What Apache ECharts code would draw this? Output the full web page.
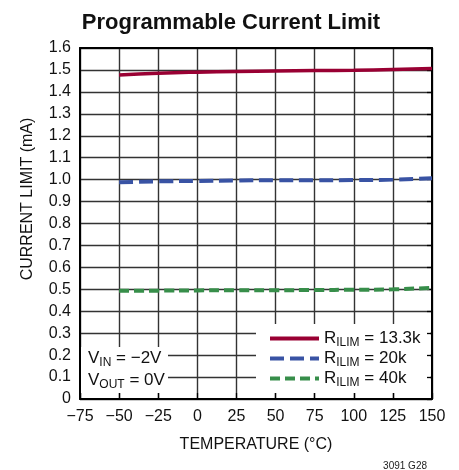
<!DOCTYPE html>
<html>
<head>
<meta charset="utf-8">
<script src="https://cdn.jsdelivr.net/npm/echarts@6/dist/echarts.min.js"></script>
<style>
  html, body { margin: 0; padding: 0; background: #fff; }
</style>
</head>
<body>
<div id="chart" style="width: 459px; height: 470px"></div>
<script>
// temperature (°C)
const temps = [-50, -25, 0, 25, 50, 75, 100, 125, 150]
// current limit (mA) for each RILIM
const r13k = [1.477, 1.485, 1.49, 1.493, 1.495, 1.497, 1.499, 1.502, 1.507]
const r20k = [0.988, 0.992, 0.994, 0.996, 0.997, 0.997, 0.998, 1.0, 1.006]
const r40k = [0.493, 0.494, 0.495, 0.496, 0.496, 0.497, 0.498, 0.5, 0.507]
const legendNames = ['13.3k', '20k', '40k']

const font = '"Liberation Sans", Arial, sans-serif'
const pair = (ys) => temps.map((t, i) => [t, ys[i]])

const chart = echarts.init(document.getElementById('chart'))

const gridLine = { show: true, lineStyle: { color: '#333', width: 1.4 } }
const frame = { show: true, onZero: false, lineStyle: { color: '#000', width: 2 } }

const option = {
  animation: false,
  title: [
    {
      text: 'Programmable Current Limit',
      left: 226,
      textAlign: 'center',
      top: 7,
      textStyle: { fontFamily: font, fontSize: 22, fontWeight: 'bold', color: '#111' }
    },
    {
      text: '3091 G28',
      right: 27,
      top: 456,
      textStyle: { fontFamily: font, fontSize: 10, fontWeight: 'normal', color: '#222' }
    }
  ],
  grid: { left: 80, right: 27, top: 48, bottom: 71 },
  legend: {
    orient: 'vertical',
    left: 263,
    top: 324,
    itemWidth: 49,
    itemHeight: 14,
    itemGap: 0,
    itemStyle: { opacity: 0 },
    lineStyle: { width: 4 },
    data: legendNames.map((n) => 'R ' + n),
    formatter: (name) => '{r|R}{s|ILIM}{r| = ' + name.slice(2) + '}',
    textStyle: {
      fontFamily: font,
      color: '#111',
      rich: {
        r: { fontFamily: font, fontSize: 17, lineHeight: 21, color: '#111' },
        s: { fontFamily: font, fontSize: 12, lineHeight: 13, color: '#111', verticalAlign: 'bottom', padding: [8, 0, 0, 0] }
      }
    }
  },
  graphic: [
    { type: 'rect', z: 1, shape: { x: 256, y: 324, width: 174, height: 69 }, style: { fill: '#fff' } },
    { type: 'rect', z: 1, shape: { x: 81, y: 347, width: 87, height: 46 }, style: { fill: '#fff' } },
    {
      type: 'text',
      z: 5,
      left: 88,
      top: 348,
      style: {
        text: '{r|V}{s|IN}{r| = \u22122V}\n{r|V}{s|OUT}{r| = 0V}',
        fontFamily: font,
        rich: {
          r: { fontFamily: font, fontSize: 17, fill: '#111', lineHeight: 22 },
          s: { fontFamily: font, fontSize: 12, fill: '#111', lineHeight: 13, verticalAlign: 'bottom', padding: [9, 0, 0, 0] }
        }
      }
    }
  ],
  xAxis: [
    {
      type: 'value',
      min: -75,
      max: 150,
      interval: 25,
      z: 3,
      axisLine: frame,
      axisTick: { show: true, inside: true, length: 6, lineStyle: { color: '#000', width: 1.3 } },
      splitLine: { show: false },
      axisLabel: {
        margin: 10,
        fontFamily: font,
        fontSize: 16,
        color: '#111',
        formatter: (v) => (v < 0 ? '\u2212' + Math.abs(v) : '' + v)
      },
      name: 'TEMPERATURE (°C)',
      nameLocation: 'middle',
      nameGap: 38,
      nameTextStyle: { fontFamily: font, fontSize: 16, color: '#111' }
    },
    {
      type: 'value',
      position: 'top',
      min: -75,
      max: 150,
      interval: 25,
      z: 0,
      axisLine: frame,
      axisTick: { show: false },
      axisLabel: { show: false },
      splitLine: gridLine
    }
  ],
  yAxis: [
    {
      type: 'value',
      min: 0,
      max: 1.6,
      interval: 0.1,
      z: 3,
      axisLine: frame,
      axisTick: { show: false },
      splitLine: { show: false },
      axisLabel: {
        margin: 9,
        fontFamily: font,
        fontSize: 16,
        color: '#111',
        formatter: (v) => (v === 0 ? '0' : v.toFixed(1))
      },
      name: 'CURRENT LIMIT (mA)',
      nameLocation: 'middle',
      nameGap: 44,
      nameTextStyle: { fontFamily: font, fontSize: 16, color: '#111', padding: [0, 0, 0, 49] }
    },
    {
      type: 'value',
      position: 'right',
      min: 0,
      max: 1.6,
      interval: 0.1,
      z: 3,
      axisLine: frame,
      axisTick: { show: true, inside: true, length: 5, lineStyle: { color: '#000', width: 1.3 } },
      axisLabel: { show: false },
      splitLine: { show: false }
    },
    {
      type: 'value',
      position: 'left',
      min: 0,
      max: 1.6,
      interval: 0.1,
      z: 0,
      axisLine: { show: false },
      axisTick: { show: false },
      axisLabel: { show: false },
      splitLine: gridLine
    }
  ],
  series: [
    {
      name: 'R 13.3k',
      type: 'line',
      smooth: true,
      symbol: 'none',
      z: 4,
      lineStyle: { color: '#990033', width: 3.5, type: 'solid' },
      itemStyle: { color: '#990033' },
      data: pair(r13k)
    },
    {
      name: 'R 20k',
      type: 'line',
      smooth: true,
      symbol: 'none',
      z: 4,
      lineStyle: { color: '#3953a4', width: 4, type: [14, 6] },
      itemStyle: { color: '#3953a4' },
      data: pair(r20k)
    },
    {
      name: 'R 40k',
      type: 'line',
      smooth: true,
      symbol: 'none',
      z: 4,
      lineStyle: { color: '#378e4a', width: 4, type: [10, 5] },
      itemStyle: { color: '#378e4a' },
      data: pair(r40k)
    }
  ]
}

chart.setOption(option)
</script>
</body>
</html>
